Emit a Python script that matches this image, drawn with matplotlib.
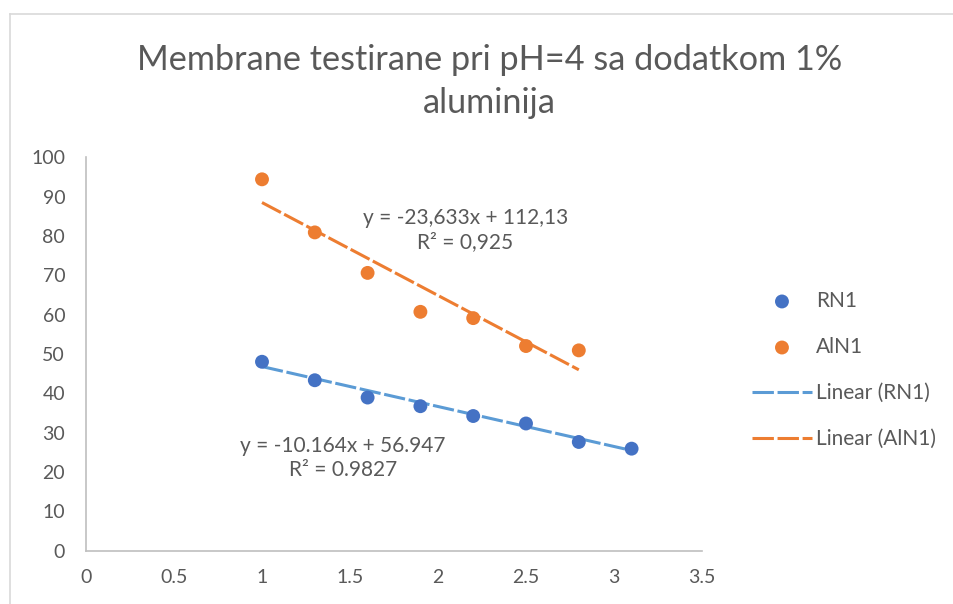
import numpy as np
import matplotlib
matplotlib.use("Agg")
import matplotlib.pyplot as plt
from matplotlib.lines import Line2D

plt.rcParams['font.family'] = ['Lato', 'DejaVu Sans']

# data
xRN1 = [1.0, 1.3, 1.6, 1.9, 2.2, 2.5, 2.8, 3.1]
yRN1 = [48.0, 43.3, 38.9, 36.7, 34.2, 32.3, 27.6, 25.9]
xAlN1 = [1.0, 1.3, 1.6, 1.9, 2.2, 2.5, 2.8]
yAlN1 = [94.4, 80.9, 70.6, 60.7, 59.1, 52.0, 50.9]

# trendline coefficients as printed on the chart
fitRN1 = (-10.164, 56.947)
fitAlN1 = (-23.633, 112.13)
eqRN1 = "y = -10.164x + 56.947\nR² = 0.9827"
eqAlN1 = "y = -23,633x + 112,13\nR² = 0,925"

xTicks = [0, 0.5, 1, 1.5, 2, 2.5, 3, 3.5]
xTickLabels = ['0', '0.5', '1', '1.5', '2', '2.5', '3', '3.5']
yTicks = list(range(0, 101, 10))

textGray = '#595959'
axisGray = '#BFBFBF'

fig = plt.figure(figsize=(9.54, 6.04), dpi=100)
ax = fig.add_axes([86 / 954, 53.5 / 604, 616 / 954, 393.2 / 604])

ax.scatter(xRN1, yRN1, s=100, color='#4472C4', zorder=3, label='RN1', edgecolors='none')
ax.scatter(xAlN1, yAlN1, s=100, color='#ED7D31', zorder=3, label='AlN1', edgecolors='none')

# trendlines, spanning the data range only
xr = np.array([min(xRN1), max(xRN1)])
ax.plot(xr, fitRN1[0] * xr + fitRN1[1], color='#5B9BD5', lw=2.2,
        linestyle=(0, (7, 1.2)), label='Linear (RN1)', zorder=2)
xa = np.array([min(xAlN1), max(xAlN1)])
ax.plot(xa, fitAlN1[0] * xa + fitAlN1[1], color='#ED7D31', lw=2.2,
        linestyle=(0, (7, 1.2)), label='Linear (AlN1)', zorder=2)

ax.set_xlim(0, 3.5)
ax.set_ylim(0, 100)
ax.set_xticks(xTicks)
ax.set_xticklabels(xTickLabels)
ax.set_yticks(yTicks)
ax.tick_params(length=0, labelsize=14, labelcolor=textGray)
ax.tick_params(axis='x', pad=13)
ax.tick_params(axis='y', pad=15)
for s in ['top', 'right']:
    ax.spines[s].set_visible(False)
for s in ['left', 'bottom']:
    ax.spines[s].set_color(axisGray)
    ax.spines[s].set_linewidth(1.2)

ax.text(2.155, 81.5, eqAlN1, ha='center', va='center', fontsize=15,
        color=textGray, linespacing=1.3)
ax.text(1.46, 23.5, eqRN1, ha='center', va='center', fontsize=15,
        color=textGray, linespacing=1.3)

fig.text(0.513, 0.865, "Membrane testirane pri pH=4 sa dodatkom 1%\naluminija",
         ha='center', va='center', fontsize=24.7, color=textGray, linespacing=1.4)

fig.legend(loc='center left', bbox_to_anchor=(733 / 954, 1 - 370 / 604),
           frameon=False, fontsize=15, labelcolor=textGray,
           handlelength=2.9, labelspacing=1.25, handletextpad=0.2)

# chart area border (only left and top visible in the crop)
fig.add_artist(Line2D([10.5 / 954, 10.5 / 954], [0, 1 - 13.5 / 604],
                      transform=fig.transFigure, color='#D9D9D9', lw=1.2))
fig.add_artist(Line2D([10.5 / 954, 1], [1 - 13.5 / 604, 1 - 13.5 / 604],
                      transform=fig.transFigure, color='#D9D9D9', lw=1.2))

fig.savefig('out.png', dpi=100)
